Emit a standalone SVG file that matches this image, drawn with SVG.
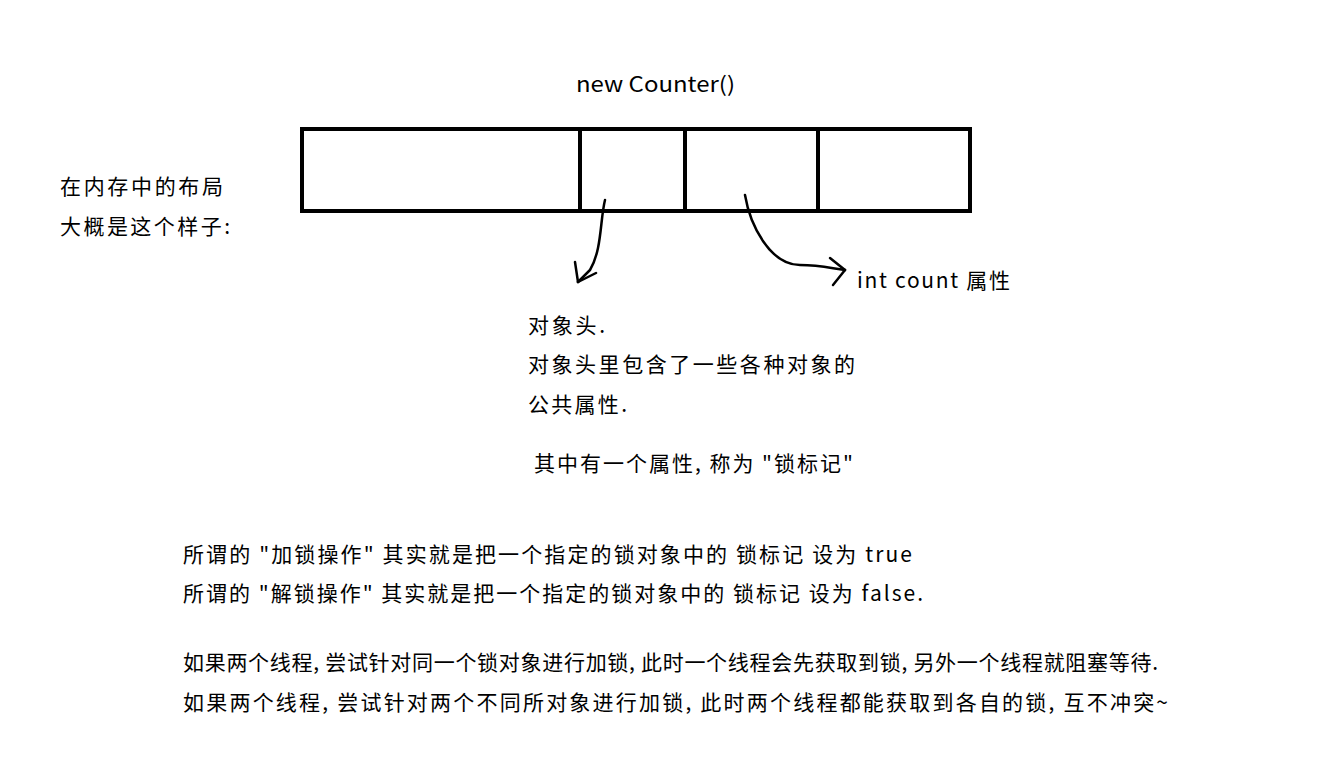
<svg xmlns="http://www.w3.org/2000/svg" width="1340" height="765" viewBox="0 0 1340 765">
<style>
text{font-family:"Noto Sans CJK SC","Noto Sans",sans-serif;font-size:21px;fill:#000}
.b{fill:none;stroke:#000;stroke-width:4}
.c{fill:none;stroke:#000;stroke-width:2.5;stroke-linecap:round;stroke-linejoin:round}
</style>
<rect width="1340" height="765" fill="#fff"/>
<g id="title"><text x="576" y="92" textLength="159" lengthAdjust="spacingAndGlyphs">new Counter()</text></g>
<g id="memory">
<rect class="b" x="302" y="129" width="668" height="82"/>
<line class="b" x1="580" y1="129" x2="580" y2="211"/>
<rect class="b" x="685" y="129" width="133" height="82"/>
</g>
<g id="connectors">
<path class="c" d="M605,200 C600,220 602,250 590,270 L578,282"/>
<path class="c" d="M578,282 L575,262"/>
<path class="c" d="M578,282 L596,273"/>
<path class="c" d="M745,195 C750,225 770,265 800,265 C820,265 830,268 845,270"/>
<path class="c" d="M845,270 L830,258"/>
<path class="c" d="M845,270 L833,285"/>
</g>
<g id="layout-label"><text x="60" y="194" textLength="163">在内存中的布局</text><text x="60" y="234" textLength="170">大概是这个样子:</text></g>
<g id="count-label"><text x="857" y="288" textLength="153">int count 属性</text></g>
<g id="header-label">
<text x="528" y="333" textLength="77">对象头.</text>
<text x="528" y="372" textLength="327">对象头里包含了一些各种对象的</text>
<text x="528" y="412" textLength="99">公共属性.</text>
<text x="534" y="471" textLength="319">其中有一个属性, 称为 "锁标记"</text>
</g>
<g id="notes">
<text x="183" y="562" textLength="729">所谓的 "加锁操作" 其实就是把一个指定的锁对象中的 锁标记 设为 true</text>
<text x="183" y="601" textLength="740">所谓的 "解锁操作" 其实就是把一个指定的锁对象中的 锁标记 设为 false.</text>
<text x="183" y="670" textLength="975">如果两个线程, 尝试针对同一个锁对象进行加锁, 此时一个线程会先获取到锁, 另外一个线程就阻塞等待.</text>
<text x="183" y="710" textLength="985">如果两个线程, 尝试针对两个不同所对象进行加锁, 此时两个线程都能获取到各自的锁, 互不冲突~</text>
</g>
</svg>
